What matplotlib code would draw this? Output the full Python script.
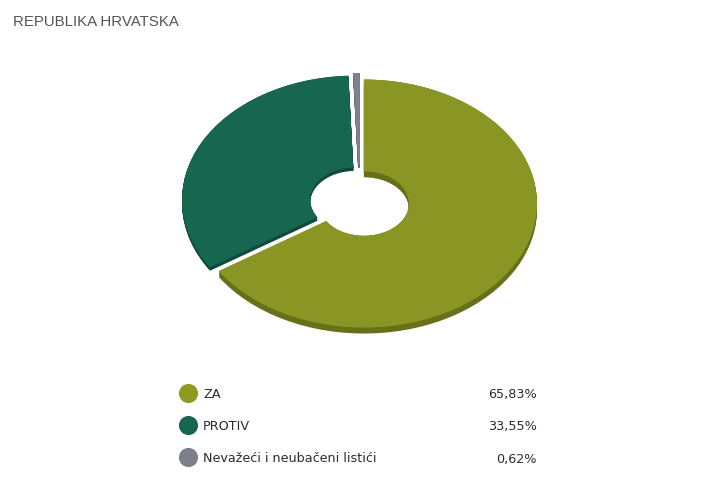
import matplotlib
matplotlib.use('Agg')
import matplotlib.pyplot as plt

## Data
labels = ['ZA', 'PROTIV', 'Nevažeći i neubačeni listići']
shares = [65.83, 33.55, 0.62]
title = 'REPUBLIKA HRVATSKA'

## Colours
top_colors = ['#8a9623', '#176650', '#7f8190']
side_colors = ['#66701a', '#0e4a3a', '#5e606c']
dot_colors = ['#8f9a22', '#176650', '#7d7f8c']

W, H = 720, 489
fig = plt.figure(figsize=(W/100, H/100), dpi=100, facecolor='white')

## Full figure axes in pixels for the title and the legend
ax_bg = fig.add_axes([0, 0, 1, 1])
ax_bg.set_xlim(0, W)
ax_bg.set_ylim(H, 0)
ax_bg.axis('off')

ax_bg.text(13, 22, title, family='Liberation Sans', fontsize=10.85,
           color='#555555', va='center', ha='left')

legend_y = [393.5, 425.5, 458]
for y, lab, val, col in zip(legend_y, labels, shares, dot_colors):
    ax_bg.scatter(188, y, s=190, color=col, linewidths=0)
    ax_bg.text(203, y + 1, lab, fontsize=9.2, color='#2b2b2b', va='center', ha='left')
    ax_bg.text(537, y + 1, f'{val:.2f}%'.replace('.', ','), fontsize=9.2,
               color='#2b2b2b', va='center', ha='right')

## Squashed donut, centre at (360, 201), radii 173 x 124 px
cx, cy, rx, ry = 360, 201, 173, 124
span = 1.2
ax_pie = fig.add_axes([(cx - span*rx)/W, 1 - (cy + span*ry)/H,
                       2*span*rx/W, 2*span*ry/H])
ax_pie.patch.set_alpha(0)

explode = [0.026, 0.032, 0.04]
side_px = [6, 3.5, 3]    # height of the side for each slice
drop_px = [2, 1.5, 2]    # slices sit a bit lower than the pie centre


def draw_layer(colors, frac):
    wedges, _ = ax_pie.pie(shares, explode=explode, colors=colors, startangle=90,
                           counterclock=False, radius=1,
                           wedgeprops=dict(width=0.74, linewidth=0))
    for w, side, drop in zip(wedges, side_px, drop_px):
        x, y = w.center
        w.set_center((x, y - (drop + side*frac)/ry))


# side of the donut, stacked below the top face
for i in range(7):
    draw_layer(side_colors, 1 - i/6)

draw_layer(top_colors, 0)

ax_pie.set_aspect('auto')
ax_pie.set_xlim(-span, span)
ax_pie.set_ylim(-span, span)
ax_pie.axis('off')

fig.savefig('out.png', dpi=100)
plt.close(fig)
